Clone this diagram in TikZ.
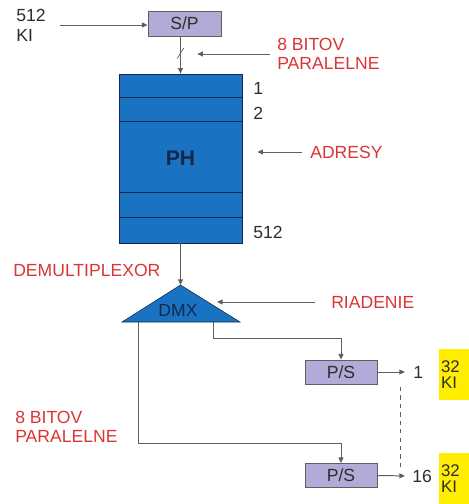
\documentclass[tikz,border=0pt]{standalone}
\usepackage{fontspec}
\setmainfont{Liberation Sans}
\definecolor{phblue}{RGB}{26,115,194}
\definecolor{phnavy}{RGB}{20,40,75}
\definecolor{convlav}{RGB}{180,170,215}
\definecolor{linegray}{RGB}{95,95,95}
\definecolor{lblred}{RGB}{218,52,52}
\definecolor{outyellow}{RGB}{255,238,0}
\definecolor{txtdark}{RGB}{45,45,45}
\usetikzlibrary{arrows.meta,calc}

\begin{document}
\begin{tikzpicture}[
    convbox/.style={rectangle, draw=linegray, fill=convlav, line width=0.6pt,
                    minimum width=1.8cm, minimum height=0.6cm, inner sep=0pt,
                    font=\fontsize{12.5}{14}\selectfont, text=txtdark},
    phbox/.style={rectangle, draw=phnavy, fill=phblue, line width=0.5pt,
                  minimum width=3.075cm, minimum height=4.225cm,
                  font=\fontsize{15}{15}\selectfont\bfseries, text=phnavy},
    rowline/.style={draw=phnavy, line width=0.8pt},
    dmxshape/.style={draw=phnavy, fill=phblue, line width=0.4pt},
    redlbl/.style={anchor=west, inner sep=0pt, align=left, text=lblred,
                   font=\fontsize{12.5}{13.5}\selectfont},
    numlbl/.style={anchor=west, inner sep=0pt, text=txtdark,
                   font=\fontsize{12.5}{14}\selectfont},
    outbox/.style={rectangle, fill=outyellow, minimum width=0.75cm, minimum height=1.275cm,
                   inner sep=0pt, text width=0.65cm, align=left, text=txtdark,
                   font=\fontsize{12}{11}\selectfont},
    arr/.style={-{Triangle[length=4pt,width=3.5pt]}, line width=0.7pt, linegray},
    wire/.style={line width=0.7pt, linegray}
  ]
    \useasboundingbox (0,0) rectangle (11.725,-12.6);

    % Input and S/P converter
    \node[numlbl, align=left, font=\fontsize{12.5}{14.2}\selectfont] (kin) at (0.4,-0.625) {512\\KI};
    \node[convbox, minimum width=1.825cm, minimum height=0.625cm] (sp) at (4.6125,-0.5875) {S/P};
    \draw[arr, shorten <=0.35cm] (kin.east) -- (kin.east -| sp.west);

    % Memory PH
    \node[phbox] (ph) at (4.5125,-3.9625) {PH};
    \foreach \d in {0.6,1.2,2.975,3.6}
      \draw[rowline] ([yshift=-\d cm]ph.north west) -- ([yshift=-\d cm]ph.north east);
    \node[numlbl] (r1) at (6.325,-2.2) {1};
    \node[numlbl] (r2) at (6.325,-2.825) {2};
    \node[numlbl] (r512) at (6.325,-5.8) {512};

    % Parallel bus into PH
    \draw[arr] (sp.south -| ph.north) -- coordinate[pos=0.45] (bus) (ph.north);
    \draw[wire, line width=0.5pt] ([shift={(-0.08,-0.13)}]bus) -- ([shift={(0.08,0.13)}]bus);
    \node[redlbl] (bitp) at (6.925,-1.35) {8 BITOV\\PARALELNE};
    \draw[arr, shorten <=0.175cm, shorten >=0.42cm] (bitp.west) -- (bitp.west -| ph.north);

    % Addresses
    \node[redlbl] (adr) at (7.75,-3.8) {ADRESY};
    \draw[arr, shorten <=0.2cm, shorten >=0.375cm] (adr.west) -- (adr.west -| ph.east);

    % Demultiplexor
    \coordinate (dmxtop) at (4.5125,-7.125);
    \coordinate (dmxl) at (3.05,-8.05);
    \coordinate (dmxr) at (6.0,-8.05);
    \draw[dmxshape] (dmxtop) -- (dmxr) -- (dmxl) -- cycle;
    \node[font=\fontsize{12.5}{14}\selectfont, text=phnavy] (dmx) at (4.45,-7.75) {DMX};
    \draw[arr] (ph.south) -- (dmxtop);
    \node[redlbl] (demux) at (0.325,-6.75) {DEMULTIPLEXOR};

    % Control
    \node[redlbl] (riad) at (8.275,-7.55) {RIADENIE};
    \coordinate (dmxin) at (5.425,-7.55);
    \draw[arr, shorten <=0.4cm] (riad.west) -- (dmxin);

    % P/S converters
    \coordinate (outa) at (5.325,-8.05);
    \coordinate (outb) at (3.45,-8.05);
    \node[convbox] (ps1) at (8.525,-9.3) {P/S};
    \node[convbox] (ps2) at (8.525,-11.8875) {P/S};
    \draw[arr] (outa) |- ([yshift=0.525cm]ps1.north) -- (ps1.north);
    \draw[arr] (outb) |- ([yshift=0.5cm]ps2.north) -- (ps2.north);
    \node[redlbl] (bitd) at (0.375,-10.675) {8 BITOV\\PARALELNE};

    % Outputs
    \node[numlbl] (o1) at (10.325,-9.3) {1};
    \node[numlbl] (o16) at (10.3,-11.9) {16};
    \draw[arr, shorten >=0.2cm] (ps1.east) -- (o1.west);
    \draw[arr, shorten >=0.175cm] (ps2.east) -- (o16.west);
    \coordinate (dtop) at (10.02,-9.675);
    \coordinate (dbot) at (10.02,-11.675);
    \draw[wire, dashed] (dtop) -- (dbot);
    \node[outbox] (ki1) at (11.35,-9.3625) {32\\KI};
    \node[outbox] (ki2) at (11.35,-11.9625) {32\\KI};
\end{tikzpicture}
\end{document}
